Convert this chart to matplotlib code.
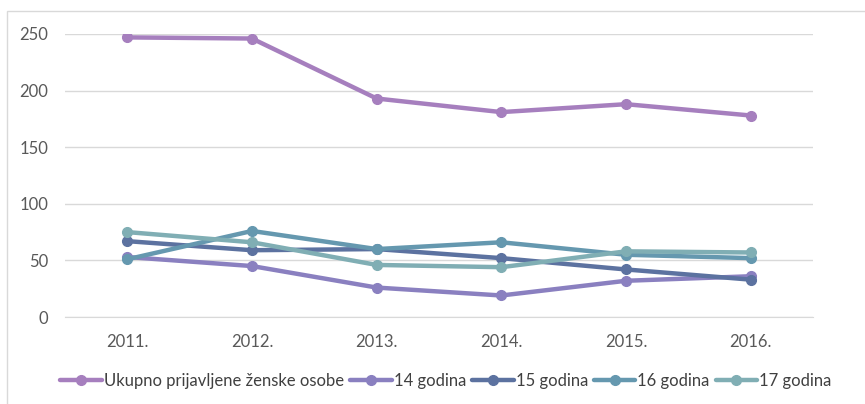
import matplotlib
matplotlib.use("Agg")
import matplotlib.pyplot as plt
from matplotlib.patches import Rectangle

years = ["2011.", "2012.", "2013.", "2014.", "2015.", "2016."]
ukupno = [247, 246, 193, 181, 188, 178]
g14 = [53, 45, 26, 19, 32, 36]
g15 = [67, 59, 60, 52, 42, 33]
g16 = [51, 76, 60, 66, 55, 52]
g17 = [75, 66, 46, 44, 58, 57]

series = [
    ("Ukupno prijavljene ženske osobe", ukupno, "#A67FBE"),
    ("14 godina", g14, "#8A80C0"),
    ("15 godina", g15, "#5C72A0"),
    ("16 godina", g16, "#6598AF"),
    ("17 godina", g17, "#80AEB4"),
]

plt.rcParams['font.family'] = ['Lato', 'DejaVu Sans']

fig = plt.figure(figsize=(8.65, 4.04), dpi=100)
fig.patches.append(Rectangle((7/865, -0.01), 1.0, (404-11)/404 + 0.01, transform=fig.transFigure,
                             fill=False, edgecolor="#D9D9D9", linewidth=1))
ax = fig.add_axes([65/865, 1-317/404, (813-65)/865, (317-34)/404])

x = list(range(len(years)))
for name, vals, col in series:
    ax.plot(x, vals, color=col, linewidth=3.2, marker="o", markersize=7,
            label=name, solid_capstyle="round", zorder=3)

ax.set_xlim(-0.5, len(years) - 0.5)
ax.set_ylim(0, 250)
ax.set_yticks([0, 50, 100, 150, 200, 250])
ax.set_xticks(x)
ax.set_xticklabels(years)
ax.grid(axis="y", color="#D9D9D9", linewidth=1)
ax.set_axisbelow(True)
for s in ["top", "right", "left"]:
    ax.spines[s].set_visible(False)
ax.spines["bottom"].set_color("#D9D9D9")
ax.tick_params(axis="both", length=0, labelsize=12, colors="#595959")
ax.tick_params(axis="x", pad=12)
ax.tick_params(axis="y", pad=12)

leg = fig.legend(loc="center", bbox_to_anchor=(446/865, 1 - 381/404), ncol=5, frameon=False,
                 fontsize=12, handlelength=2.5, handletextpad=0.12, columnspacing=0.35,
                 labelcolor="#404040")

fig.savefig("out.png", dpi=100)
